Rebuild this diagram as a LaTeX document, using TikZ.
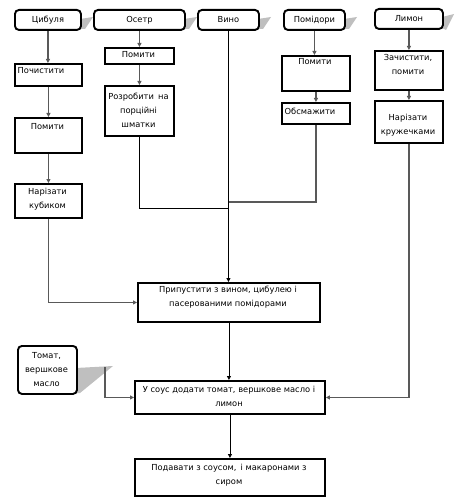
\documentclass[tikz,border=0pt]{standalone}
\usepackage{fontspec}
\setmainfont{DejaVu Sans}
\usetikzlibrary{arrows.meta}
\newcommand{\mkbox}[6]{\node[#1, anchor=north west, minimum width={#5-#3}, minimum height={#6-#4}] (#2) at (#3,#4) {};}
\begin{document}
\begin{tikzpicture}[x=1pt,y=-1pt,
  bxs/.style={draw=black, line width=1.9pt, inner sep=0pt, fill=white},
  rbx/.style={bxs, rounded corners=4pt},
  txt/.style={inner sep=0pt, align=center, font=\fontsize{8.3}{14}\selectfont},
  shd/.style={fill=black!25, draw=none},
  con/.style={draw=black!65, line width=1.3pt},
  conb/.style={draw=black, line width=0.9pt},
  arr/.style={-{Triangle[length=4pt,width=4pt]}}]
\useasboundingbox (0,0) rectangle (456,500);
% shadows
\fill[shd] (80,19) -- (93,17) -- (85,29) -- (80,29) -- cycle;
\fill[shd] (184,19) -- (197,17) -- (189,29) -- (184,29) -- cycle;
\fill[shd] (258,19) -- (271,17) -- (263,29) -- (258,29) -- cycle;
\fill[shd] (344,19) -- (357,17) -- (349,29) -- (344,29) -- cycle;
\fill[shd] (442,17) -- (454,14) -- (446,30) -- (442,28) -- cycle;
\fill[shd] (76,368) -- (113,366) -- (80,393) -- (76,393) -- cycle;
% top boxes
\node[rbx, anchor=north west, minimum width=66, minimum height=20, font=\fontsize{8.3}{10}\selectfont] (cib) at (14,9) {Цибуля};
\node[rbx, anchor=north west, minimum width=91, minimum height=20, font=\fontsize{8.3}{10}\selectfont] (oset) at (93,9) {Осетр};
\node[rbx, anchor=north west, minimum width=61, minimum height=20, font=\fontsize{8.3}{10}\selectfont] (vino) at (197,9) {Вино};
\node[rbx, anchor=north west, minimum width=61, minimum height=20, font=\fontsize{8.3}{10}\selectfont] (pomid) at (283,9) {Помідори};
\node[rbx, anchor=north west, minimum width=68, minimum height=20, font=\fontsize{8.3}{10}\selectfont] (lim) at (374,8) {Лимон};
% rectangles
\mkbox{bxs}{poch}{14}{63}{81}{85}
\mkbox{bxs}{pomA}{14}{117}{81}{152}
\mkbox{bxs}{narA}{14}{183}{81}{217}
\mkbox{bxs}{pomB}{104}{47}{173}{63}
\mkbox{bxs}{rozr}{104}{85}{173}{135}
\mkbox{bxs}{pomC}{281}{55}{349}{90}
\mkbox{bxs}{obs}{281}{102}{349}{123}
\mkbox{bxs}{zach}{374}{50}{442}{89}
\mkbox{bxs}{narB}{374}{100}{442}{142}
\mkbox{bxs}{prip}{137}{282}{319}{321}
\mkbox{bxs}{usous}{134}{380}{324}{413}
\mkbox{bxs}{podav}{134}{458}{324}{495}
\mkbox{rbx}{tom}{17}{345}{76}{393}
% texts
\node[txt, anchor=west] (tpoch) at (17.5,71) {Почистити};
\node[txt] (tpomA) at (47.5,127) {Помити};
\node[txt] (tnarA) at (47.5,199.5) {Нарізати\\кубиком};
\node[txt] (tpomB) at (138.5,55) {Помити};
\node[txt] (trozr) at (138.5,110) {Розробити\enspace на\\порційні\\шматки};
\node[txt] (tpomC) at (315,62) {Помити};
\node[txt, anchor=west] (tobs) at (284.5,111) {Обсмажити};
\node[txt] (tzach) at (408,64.5) {Зачистити,\\помити};
\node[txt] (tnarB) at (408,125) {Нарізати\\кружечками};
\node[txt] (tprip) at (228,297.5) {Припустити з вином, цибулею і\\пасерованими помідорами};
\node[txt] (tusous) at (229,396.5) {У соус додати томат, вершкове масло і\\лимон};
\node[txt] (tpodav) at (229,475) {Подавати з соусом,\enspace і макаронами з\\сиром};
\node[txt] (ttom) at (46.5,370) {Томат,\\вершкове\\масло};
% connectors
\draw[con,arr] (cib.south) -- (cib.south |- poch.north);
\draw[con,arr] (poch.south) -- (pomA.north);
\draw[con,arr] (pomA.south) -- (narA.north);
\draw[con,arr] (narA.south) |- (prip.west);
\draw[con,arr] (oset.south) -- (oset.south |- pomB.north);
\draw[con,arr] (pomB.south) -- (rozr.north);
\coordinate (j1) at (228,208);
\coordinate (j2) at (228,202);
\draw[conb] (rozr.south) |- (j1);
\draw[con,arr] (pomid.south) -- (pomid.south |- pomC.north);
\draw[con,arr] (pomC.south) -- (obs.north);
\draw[con] (obs.south) |- (j2);
\draw[conb,arr] (vino.south) -- (vino.south |- prip.north);
\draw[con,arr] (lim.south) -- (lim.south |- zach.north);
\draw[con,arr] (zach.south) -- (narB.north);
\draw[con,arr] (narB.south) |- (usous.east);
\coordinate (tc) at (105,367);
\draw[con,arr] (tc) |- (usous.west);
\draw[conb,arr] (prip.south) -- (prip.south |- usous.north);
\draw[conb,arr] (usous.south) -- (podav.north);
\end{tikzpicture}
\end{document}
